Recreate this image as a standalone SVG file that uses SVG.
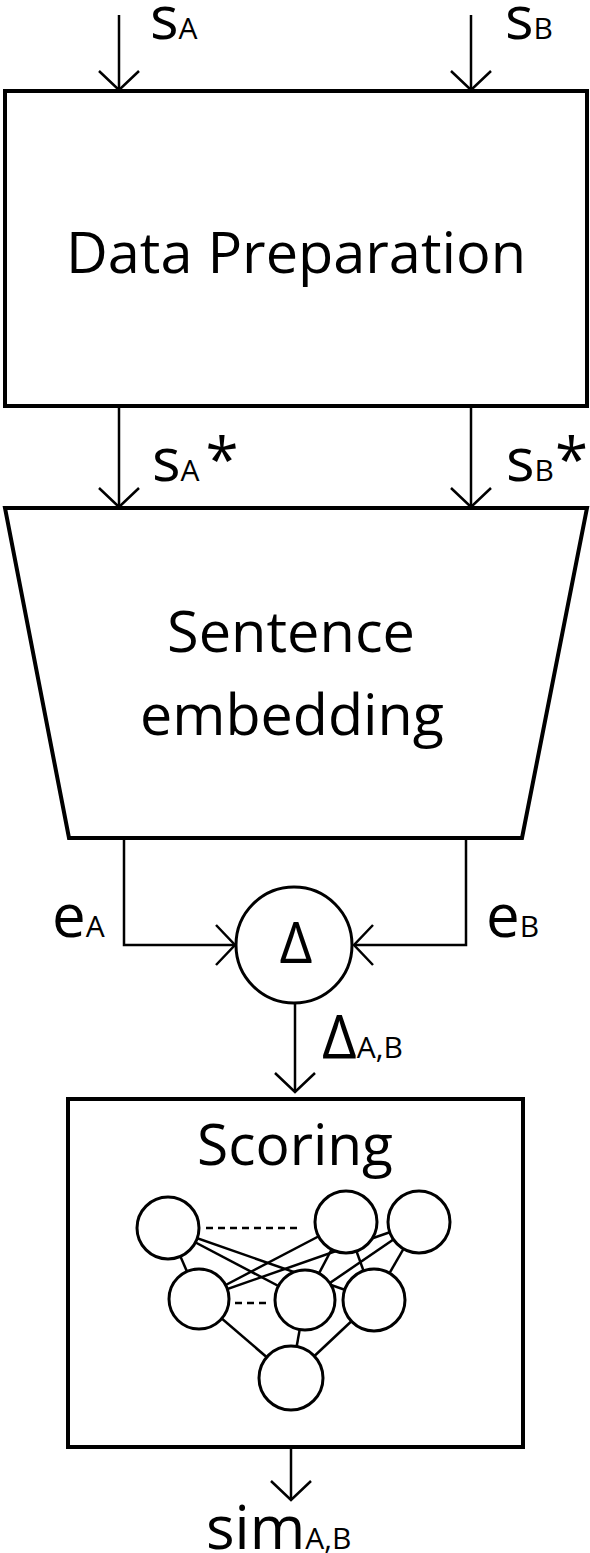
<svg xmlns="http://www.w3.org/2000/svg" width="590" height="1553" viewBox="0 0 590 1553">
  <style>
    .box { fill: #fff; stroke: #000; stroke-width: 4; }
    .wire { fill: none; stroke: #000; stroke-width: 2.5; }
    .node { fill: #fff; stroke: #000; stroke-width: 3; }
    .edge { stroke: #000; stroke-width: 2.5; }
    .dash { stroke: #000; stroke-width: 2.5; stroke-dasharray: 7 5; }
    .t { font-family: "Open Sans", "Liberation Sans", sans-serif; fill: #000; }
    .title { font-size: 57px; text-anchor: middle; }
    .lbl { font-size: 60px; }
    .sub { font-size: 30px; }
  </style>
  <defs>
    <marker id="arr" markerUnits="userSpaceOnUse" viewBox="-25 -25 30 50" markerWidth="30" markerHeight="50" refX="0" refY="0" orient="auto" overflow="visible">
      <path d="M-19,-20 L0,0 L-19,20" fill="none" stroke="#000" stroke-width="2.5"/>
    </marker>
  </defs>
  <rect width="590" height="1553" fill="#fff"/>

  <g id="connectors">
    <line class="wire" x1="119" y1="15" x2="119" y2="90" marker-end="url(#arr)"/>
    <line class="wire" x1="471" y1="15" x2="471" y2="90" marker-end="url(#arr)"/>
    <line class="wire" x1="119" y1="406" x2="119" y2="507" marker-end="url(#arr)"/>
    <line class="wire" x1="471" y1="406" x2="471" y2="507" marker-end="url(#arr)"/>
    <polyline class="wire" points="124,838 124,945 235,945" marker-end="url(#arr)"/>
    <polyline class="wire" points="466,838 466,945 354,945" marker-end="url(#arr)"/>
    <line class="wire" x1="295" y1="1003" x2="295" y2="1092" marker-end="url(#arr)"/>
    <line class="wire" x1="291" y1="1410" x2="291" y2="1500" marker-end="url(#arr)"/>
  </g>

  <g id="data-preparation">
    <rect class="box" x="5" y="91" width="582" height="315"/>
    <text class="t title" x="296" y="273" textLength="460" lengthAdjust="spacingAndGlyphs">Data Preparation</text>
  </g>

  <g id="sentence-embedding">
    <polygon class="box" points="5,508 587,508 522,838 69,838"/>
    <text class="t title" x="291" y="652" textLength="248" lengthAdjust="spacingAndGlyphs">Sentence</text>
    <text class="t title" x="292" y="735" textLength="304" lengthAdjust="spacingAndGlyphs">embedding</text>
  </g>

  <g id="delta">
    <circle class="node" cx="294" cy="945" r="58"/>
    <text class="t title" x="296" y="963" font-size="55">Δ</text>
  </g>

  <g id="scoring">
    <rect class="box" x="68" y="1099" width="455" height="348"/>
    <text class="t title" x="295" y="1165" textLength="196" lengthAdjust="spacingAndGlyphs">Scoring</text>
    <g id="network">
      <line class="edge" x1="168" y1="1228" x2="199" y2="1299"/>
      <line class="edge" x1="168" y1="1228" x2="305" y2="1300"/>
      <line class="edge" x1="168" y1="1228" x2="374" y2="1300"/>
      <line class="edge" x1="346" y1="1222" x2="199" y2="1299"/>
      <line class="edge" x1="346" y1="1222" x2="305" y2="1300"/>
      <line class="edge" x1="346" y1="1222" x2="374" y2="1300"/>
      <line class="edge" x1="419" y1="1222" x2="199" y2="1299"/>
      <line class="edge" x1="419" y1="1222" x2="305" y2="1300"/>
      <line class="edge" x1="419" y1="1222" x2="374" y2="1300"/>
      <line class="edge" x1="199" y1="1299" x2="291" y2="1378"/>
      <line class="edge" x1="305" y1="1300" x2="291" y2="1378"/>
      <line class="edge" x1="374" y1="1300" x2="291" y2="1378"/>
      <line class="dash" x1="206" y1="1228" x2="302" y2="1228"/>
      <line class="dash" x1="235" y1="1303" x2="271" y2="1303"/>
      <circle class="node" cx="168" cy="1228" r="31"/>
      <circle class="node" cx="346" cy="1222" r="31"/>
      <circle class="node" cx="419" cy="1222" r="31"/>
      <circle class="node" cx="199" cy="1299" r="30"/>
      <circle class="node" cx="305" cy="1300" r="30"/>
      <circle class="node" cx="374" cy="1300" r="31"/>
      <circle class="node" cx="291" cy="1378" r="32"/>
    </g>
  </g>

  <g id="labels">
    <text class="t lbl" x="150" y="39">s<tspan class="sub">A</tspan></text>
    <text class="t lbl" x="505" y="39">s<tspan class="sub">B</tspan></text>
    <text class="t lbl" x="152" y="481">s<tspan class="sub">A</tspan><tspan dx="6">*</tspan></text>
    <text class="t lbl" x="506" y="481">s<tspan class="sub">B</tspan><tspan dx="1">*</tspan></text>
    <text class="t lbl" x="52" y="937">e<tspan class="sub">A</tspan></text>
    <text class="t lbl" x="486" y="937">e<tspan class="sub">B</tspan></text>
    <text class="t lbl" x="322" y="1058" font-size="54">Δ<tspan class="sub">A,B</tspan></text>
    <text class="t lbl" x="206" y="1549" font-size="58">sim<tspan class="sub">A,B</tspan></text>
  </g>
</svg>
